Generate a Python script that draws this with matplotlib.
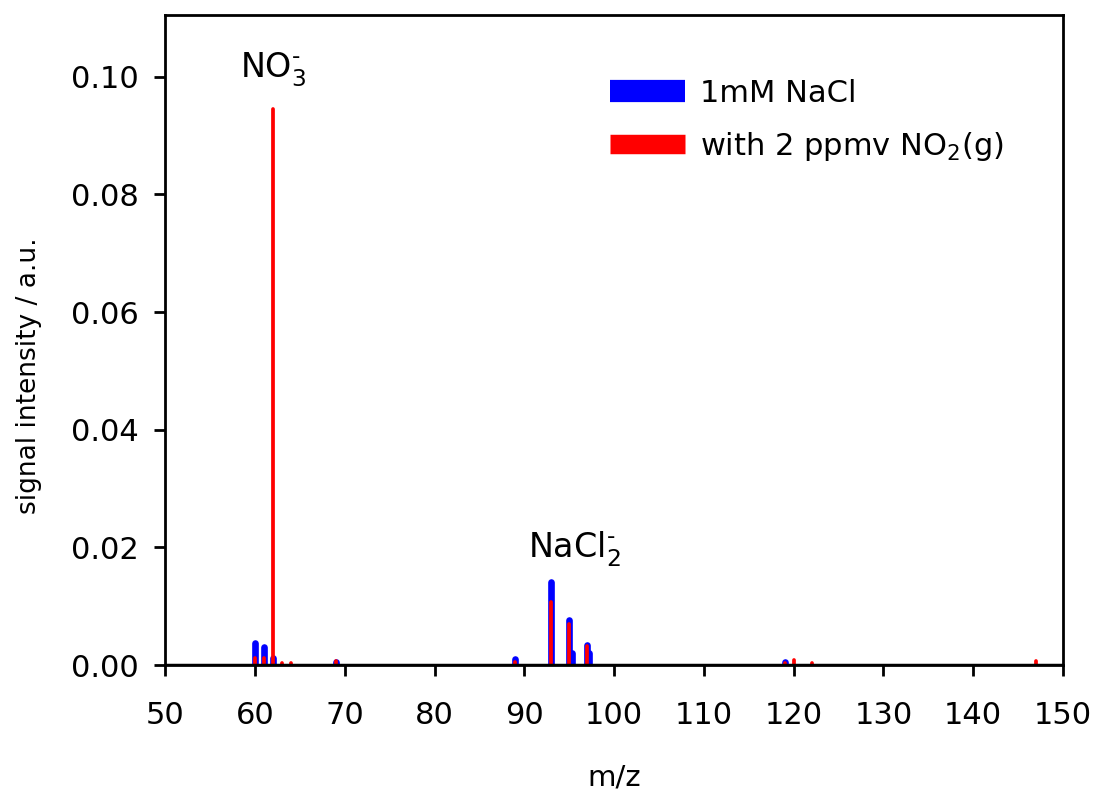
import matplotlib
matplotlib.use("Agg")
import matplotlib.pyplot as plt
from matplotlib.lines import Line2D

plt.rcParams['font.family'] = ['DejaVu Sans']

# Data
mz_nacl = [60, 61, 62, 69, 89, 93, 95, 95.3, 97, 97.2, 119]
int_nacl = [0.0038, 0.0031, 0.0012, 0.0005, 0.0010, 0.0141, 0.0077, 0.0020, 0.0034, 0.0021, 0.0005]
mz_no2 = [60, 61, 62, 63, 64, 69, 89, 93, 95, 97, 119, 120, 122, 147]
int_no2 = [0.0012, 0.0012, 0.0945, 0.0003, 0.0003, 0.0006, 0.0005, 0.0107, 0.0070, 0.0033,
           0.0004, 0.0008, 0.0004, 0.0007]
xticks = list(range(50, 151, 10))
yticks = [0.00, 0.02, 0.04, 0.06, 0.08, 0.10]

fig = plt.figure(figsize=(11.01, 7.95), dpi=100)
ax = fig.add_axes([0.150, 0.1635, 0.8155, 0.8175])

ax.vlines(mz_nacl, 0, int_nacl, colors='#0000ff', linewidth=4.8, capstyle='round', zorder=2)
ax.vlines(mz_no2, 0, int_no2, colors='#ff0000', linewidth=2.7, capstyle='round', zorder=3)

ax.set_xlim(50, 150)
ax.set_ylim(0, 0.1105)
ax.set_xticks(xticks)
ax.set_yticks(yticks)
ax.set_yticklabels([f"{v:.2f}" for v in yticks])
ax.tick_params(direction='out', length=8, width=2, labelsize=22, colors='black')
ax.tick_params(axis='x', pad=18)
ax.tick_params(axis='y', pad=11)
for s in ax.spines.values():
    s.set_linewidth(2)
ax.axhline(0, color='black', linewidth=2.5, zorder=4)

ax.set_xlabel('m/z', fontsize=21)
ax.xaxis.set_label_coords(0.5, -0.152)
ax.set_ylabel('signal intensity / a.u.', fontsize=19)
ax.yaxis.set_label_coords(-0.137, 0.445)

ax.text(62.0, 0.1012, r'NO$_3^{\text{-}}$', fontsize=24, ha='center', va='center')
ax.text(95.6, 0.0197, r'NaCl$_2^{\text{-}}$', fontsize=24, ha='center', va='center')

handles = [Line2D([0], [0], color='#0000ff', lw=16, solid_capstyle='butt'),
           Line2D([0], [0], color='#ff0000', lw=14, solid_capstyle='butt')]
ax.legend(handles, ['1mM NaCl', r'with 2 ppmv NO$_2$(g)'], loc='upper left',
          bbox_to_anchor=(0.4955, 0.902), frameon=False, fontsize=22, borderpad=0,
          borderaxespad=0, handlelength=2.45, handletextpad=0.5, labelspacing=0.72)

fig.savefig('out.png', dpi=100)
